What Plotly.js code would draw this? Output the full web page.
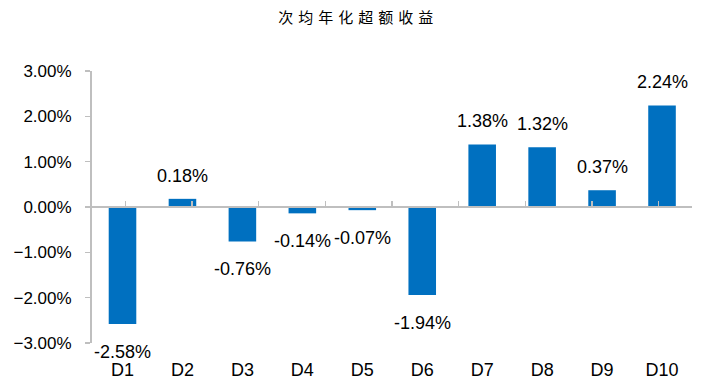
<!DOCTYPE html>
<html>
<head>
<meta charset="utf-8">
<script src="https://cdn.plot.ly/plotly-3.0.1.min.js"></script>
<style>
html,body{margin:0;padding:0;background:#fff;}
#chart{width:705px;height:387px;}
.gtitle{letter-spacing:5px;}
</style>
</head>
<body>
<div id="chart"></div>
<script>
const categories = ['D1','D2','D3','D4','D5','D6','D7','D8','D9','D10'];
const excessReturn = [-0.0258, 0.0018, -0.0076, -0.0014, -0.0007, -0.0194, 0.0138, 0.0132, 0.0037, 0.0224];
const titleText = '次均年化超额收益';
const yTickValues = [-0.03, -0.02, -0.01, 0, 0.01, 0.02, 0.03];

const barColor = '#0070C0';
const axisGray = '#BFBFBF';
const fontFamily = 'Liberation Sans, Arial, sans-serif';

const traces = [
  {
    type: 'bar',
    x: categories,
    y: excessReturn,
    marker: {color: barColor},
    hoverinfo: 'skip',
    xaxis: 'x',
    yaxis: 'y'
  },
  {
    type: 'scatter',
    mode: 'none',
    x: categories,
    y: excessReturn,
    hoverinfo: 'skip',
    showlegend: false,
    xaxis: 'x2',
    yaxis: 'y'
  }
];

const annotations = categories.map((c, i) => {
  const v = excessReturn[i];
  const pos = v >= 0;
  return {
    x: c, y: v, xref: 'x', yref: 'y',
    text: (v * 100).toFixed(2) + '%',
    showarrow: false,
    yanchor: pos ? 'bottom' : 'top',
    yshift: pos ? 11 : -16,
    font: {family: fontFamily, size: 18, color: '#000'}
  };
});

const layout = {
  width: 705, height: 387,
  margin: {l: 92, r: 13, t: 71, b: 44},
  paper_bgcolor: '#fff', plot_bgcolor: '#fff',
  showlegend: false,
  bargap: 0.54,
  title: {
    text: titleText,
    x: 0.508, xanchor: 'center', xref: 'container',
    y: 0.953, yref: 'container', yanchor: 'middle',
    font: {family: 'Noto Sans CJK SC, sans-serif', size: 15, color: '#000'}
  },
  xaxis: {
    type: 'category',
    showline: false, showgrid: false, zeroline: false,
    ticks: '', ticklabelstandoff: 14,
    tickfont: {family: fontFamily, size: 18, color: '#000'}
  },
  xaxis2: {
    type: 'category',
    overlaying: 'x', anchor: 'free', position: 0.5, side: 'bottom',
    showline: true, linecolor: axisGray, linewidth: 2,
    showgrid: false, zeroline: false, showticklabels: false,
    ticks: 'inside', ticklen: 5, tickwidth: 1.5, tickcolor: axisGray,
    tickson: 'boundaries'
  },
  yaxis: {
    range: [-0.03, 0.03],
    tickvals: yTickValues,
    tickformat: '.2%',
    showline: true, linecolor: axisGray, linewidth: 2,
    showgrid: false, zeroline: false,
    ticks: 'outside', ticklen: 5, tickwidth: 1.5, tickcolor: axisGray,
    ticklabelstandoff: 10,
    tickfont: {family: fontFamily, size: 17, color: '#000'}
  },
  annotations: annotations
};

Plotly.newPlot('chart', traces, layout, {displayModeBar: false, staticPlot: true});
</script>
</body>
</html>
